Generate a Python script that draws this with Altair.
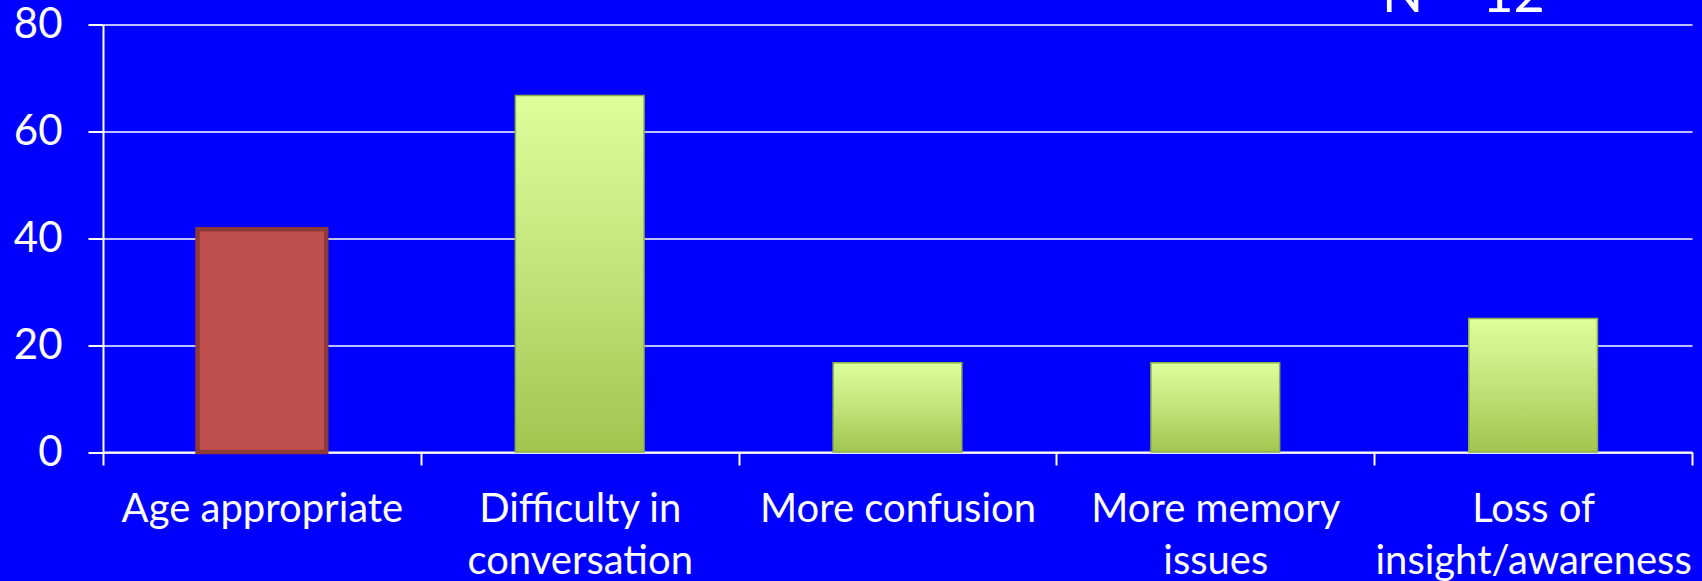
import altair as alt
import pandas as pd

# Survey responses (% of respondents), one bar per category
categories = [
    "Age appropriate",
    "Difficulty in\nconversation",
    "More confusion",
    "More memory\nissues",
    "Loss of\ninsight/awareness",
]
percent = [41.7, 66.7, 16.7, 16.7, 25.0]
highlight = [True, False, False, False, False]
y_ticks = [0, 20, 40, 60, 80]
note = "N = 12"

df = pd.DataFrame({"category": categories, "percent": percent, "highlight": highlight})

W, H = 1589, 427.5
FONT = "Lato"
BAR_SIZE = alt.RelativeBandSize(0.405)

x_enc = alt.X(
    "category:N",
    sort=categories,
    title=None,
    scale=alt.Scale(paddingInner=0, paddingOuter=0),
    axis=alt.Axis(
        labelAngle=0,
        labelExpr="split(datum.label, '\\n')",
        labelFontSize=40,
        labelLineHeight=52,
        labelPadding=24,
        labelBaseline="top",
        labelLimit=0,
        tickBand="extent",
        tickSize=13,
        grid=False,
    ),
)
y_enc = alt.Y(
    "percent:Q",
    title=None,
    scale=alt.Scale(domain=[0, 80], nice=False),
    axis=alt.Axis(
        values=y_ticks,
        labelFontSize=42,
        labelPadding=26,
        tickSize=15,
        grid=True,
    ),
)

base = alt.Chart(df).encode(x=x_enc, y=y_enc)

green = alt.Gradient(
    gradient="linear",
    x1=0, x2=0, y1=0, y2=1,
    stops=[
        alt.GradientStop(color="#DDFF9C", offset=0),
        alt.GradientStop(color="#C2E37B", offset=0.5),
        alt.GradientStop(color="#A0C64E", offset=1),
    ],
)

red_bar = base.transform_filter("datum.highlight").mark_bar(
    color="#C0504D", stroke="#8E3A38", strokeWidth=4.5, width=BAR_SIZE
)
green_bars = base.transform_filter("!datum.highlight").mark_bar(
    fill=green, stroke="#8BAE47", strokeWidth=1.5, width=BAR_SIZE
)

note_text = alt.Chart(pd.DataFrame({"note": [note]})).mark_text(
    font=FONT, fontSize=54, color="white", align="left", baseline="alphabetic"
).encode(text="note:N", x=alt.value(1279), y=alt.value(-12.5))

chart = (
    alt.layer(red_bar, green_bars, note_text)
    .properties(
        width=W,
        height=H,
        background="#0000FF",
        autosize=alt.AutoSizeParams(type="none"),
        padding={"left": 103, "top": 24.5, "right": 10, "bottom": 129},
    )
    .configure_view(stroke=None)
    .configure_axis(
        domainColor="white",
        domainWidth=2,
        tickColor="white",
        tickWidth=2,
        gridColor="white",
        gridWidth=1.5,
        labelColor="white",
        labelFont=FONT,
    )
)

chart.save("out.html", embed_options={"renderer": "svg", "actions": False})
